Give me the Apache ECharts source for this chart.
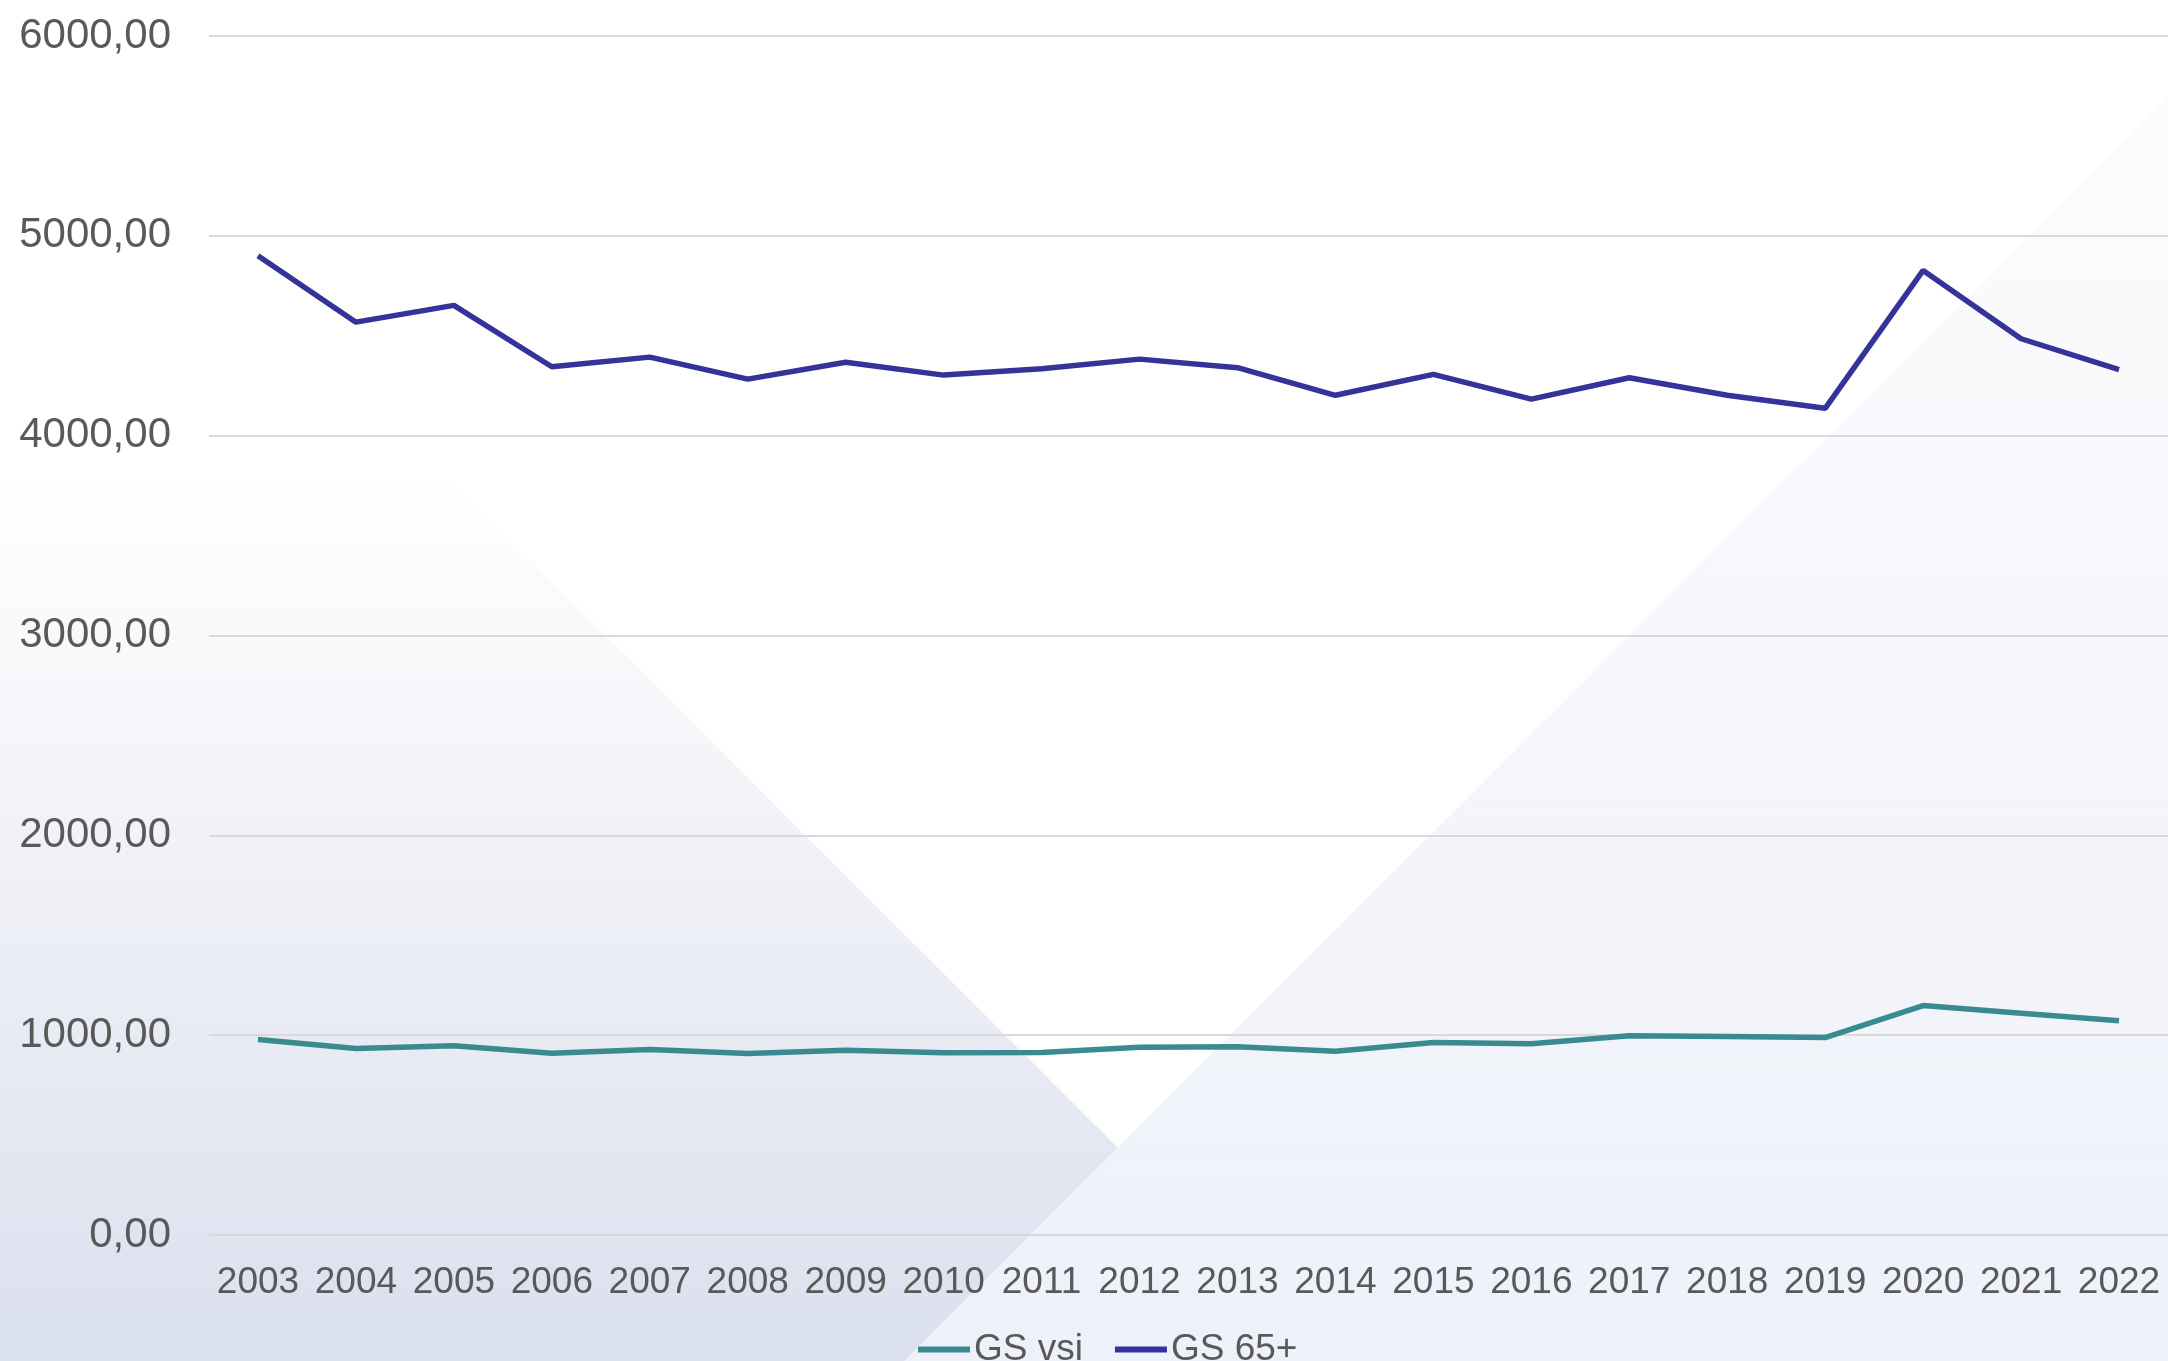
<!DOCTYPE html>
<html>
<head>
<meta charset="utf-8">
<script src="https://cdn.jsdelivr.net/npm/echarts@6/dist/echarts.min.js"></script>
<style>
html,body{margin:0;padding:0;background:#fff;}
#chart{width:2168px;height:1361px;}
</style>
</head>
<body>
<div id="chart"></div>
<script>
const years = ['2003','2004','2005','2006','2007','2008','2009','2010','2011','2012','2013','2014','2015','2016','2017','2018','2019','2020','2021','2022'];
const gsVsi = [978, 933, 947, 910, 928, 908, 925, 912, 913, 940, 942, 920, 963, 957, 997, 993, 988, 1148, 1110, 1072];
const gs65 = [4900, 4568, 4652, 4345, 4393, 4283, 4367, 4303, 4335, 4383, 4340, 4202, 4307, 4183, 4290, 4202, 4137, 4827, 4485, 4330];
const seriesNames = ['GS vsi', 'GS 65+'];
const yTicks = [0, 1000, 2000, 3000, 4000, 5000, 6000];

const FONT = '"Liberation Sans", Arial, Helvetica, sans-serif';
const TEXT = '#595959';
const TEAL = '#3a8b8f';
const NAVY = '#333399';

const chart = echarts.init(document.getElementById('chart'));
chart.setOption({
  backgroundColor: '#ffffff',
  animation: false,
  graphic: [
    {
      type: 'polygon', z: -10, silent: true,
      shape: { points: [[0, 470], [440, 470], [1331, 1361], [0, 1361]] },
      style: {
        fill: { type: 'linear', x: 0, y: 0, x2: 0, y2: 1, colorStops: [
          { offset: 0, color: '#ffffff' },
          { offset: 0.35, color: '#f3f4f8' },
          { offset: 1, color: '#dbe0ee' }
        ]}
      }
    },
    {
      type: 'polygon', z: -9, silent: true,
      shape: { points: [[2168, 97], [2168, 1361], [904, 1361]] },
      style: {
        fill: { type: 'linear', x: 0, y: 0, x2: 0, y2: 1, colorStops: [
          { offset: 0, color: '#fcfcfe' },
          { offset: 0.5, color: '#f5f6fa' },
          { offset: 1, color: '#eef1fa' }
        ]}
      }
    }
  ],
  grid: { left: 209, right: 0, top: 36, bottom: 126, containLabel: false },
  legend: {
    data: seriesNames.map(function (n) { return { name: n, icon: 'rect' }; }),
    left: 913, top: 1326,
    itemWidth: 52, itemHeight: 6, itemGap: 32,
    textStyle: { fontFamily: FONT, fontSize: 37, color: TEXT, padding: [0, 0, 0, -1] }
  },
  xAxis: {
    type: 'category',
    data: years,
    boundaryGap: true,
    axisLine: { show: false },
    axisTick: { show: false },
    axisLabel: { interval: 0, fontFamily: FONT, fontSize: 37, color: TEXT, margin: 29 }
  },
  yAxis: {
    type: 'value',
    min: yTicks[0], max: yTicks[yTicks.length - 1], interval: 1000,
    axisLine: { show: false },
    axisTick: { show: false },
    splitLine: { lineStyle: { color: '#d9d9d9', width: 2 } },
    axisLabel: {
      fontFamily: FONT, fontSize: 42, color: TEXT, margin: 38,
      formatter: function (v) { return v.toFixed(2).replace('.', ','); }
    }
  },
  series: [
    { name: seriesNames[0], type: 'line', data: gsVsi, symbol: 'none', color: TEAL,
      lineStyle: { width: 5.5, color: TEAL } },
    { name: seriesNames[1], type: 'line', data: gs65, symbol: 'none', color: NAVY,
      lineStyle: { width: 5.5, color: NAVY } }
  ]
});
</script>
</body>
</html>
